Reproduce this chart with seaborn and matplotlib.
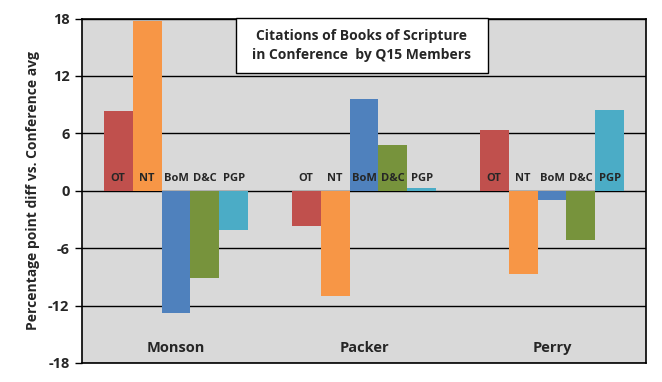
import matplotlib
matplotlib.use("Agg")
import matplotlib.pyplot as plt
from matplotlib.patches import Rectangle
import seaborn as sns
import pandas as pd

# data
members = ["Monson", "Packer", "Perry"]
books = ["OT", "NT", "BoM", "D&C", "PGP"]
monson = [8.3, 17.7, -12.8, -9.1, -4.1]
packer = [-3.7, -11.0, 9.6, 4.8, 0.3]
perry = [6.4, -8.7, -1.0, -5.1, 8.4]
colors = ["#C0504D", "#F79646", "#4F81BD", "#77933C", "#4BACC6"]
yticks = [-18, -12, -6, 0, 6, 12, 18]

rows = []
for m, vals in zip(members, [monson, packer, perry]):
    for b, v in zip(books, vals):
        rows.append({"Member": m, "Book": b, "Diff": v})
df = pd.DataFrame(rows)

sns.set_style("white")
plt.rcParams["font.family"] = ["Open Sans", "DejaVu Sans"]
plt.rcParams["font.weight"] = "bold"

fig = plt.figure(figsize=(6.62, 3.82), dpi=100)
ax = fig.add_axes([82 / 662, 1 - 363 / 382, 564 / 662, 344.5 / 382])
ax.set_facecolor("#D9D9D9")

sns.barplot(data=df, x="Member", y="Diff", hue="Book", hue_order=books,
            palette=colors, saturation=1, width=0.77, linewidth=0,
            ax=ax, zorder=3)
ax.get_legend().remove()

# book labels just above the zero line
for cont, lab in zip(ax.containers, books):
    for bar in cont:
        ax.text(bar.get_x() + bar.get_width() / 2, 1.25, lab, ha="center",
                va="center", fontsize=8, fontweight="bold", zorder=5)

# member names inside the plot area
for i, m in enumerate(members):
    ax.text(i, -16.4, m, ha="center", va="center", fontsize=10.5,
            fontweight="bold")

ax.set_ylim(-18, 18)
ax.set_xlim(-0.5, 2.5)
ax.set_yticks(yticks)
ax.set_yticklabels([str(t) for t in yticks], fontsize=10.5, fontweight="bold")
ax.set_xticks([])
ax.set_xlabel("")
ax.set_ylabel("Percentage point diff vs. Conference avg", fontsize=10,
              fontweight="bold", labelpad=6)
ax.grid(axis="y", color="black", linewidth=1, zorder=1)
ax.set_axisbelow(True)
ax.tick_params(axis="y", direction="out", length=5, width=1, color="black",
               left=True, pad=4)
for s in ax.spines.values():
    s.set_color("black")
    s.set_linewidth(1.2)

# title box
ax.add_patch(Rectangle((0.273, 0.842), 0.447, 0.158, transform=ax.transAxes,
                       facecolor="white", edgecolor="black", linewidth=1,
                       zorder=6, clip_on=False))
ax.text(0.496, 0.921, "Citations of Books of Scripture\nin Conference  by Q15 Members",
        transform=ax.transAxes, ha="center", va="center", fontsize=10,
        fontweight="bold", linespacing=1.45, zorder=7)

fig.savefig("out.png", dpi=100)
